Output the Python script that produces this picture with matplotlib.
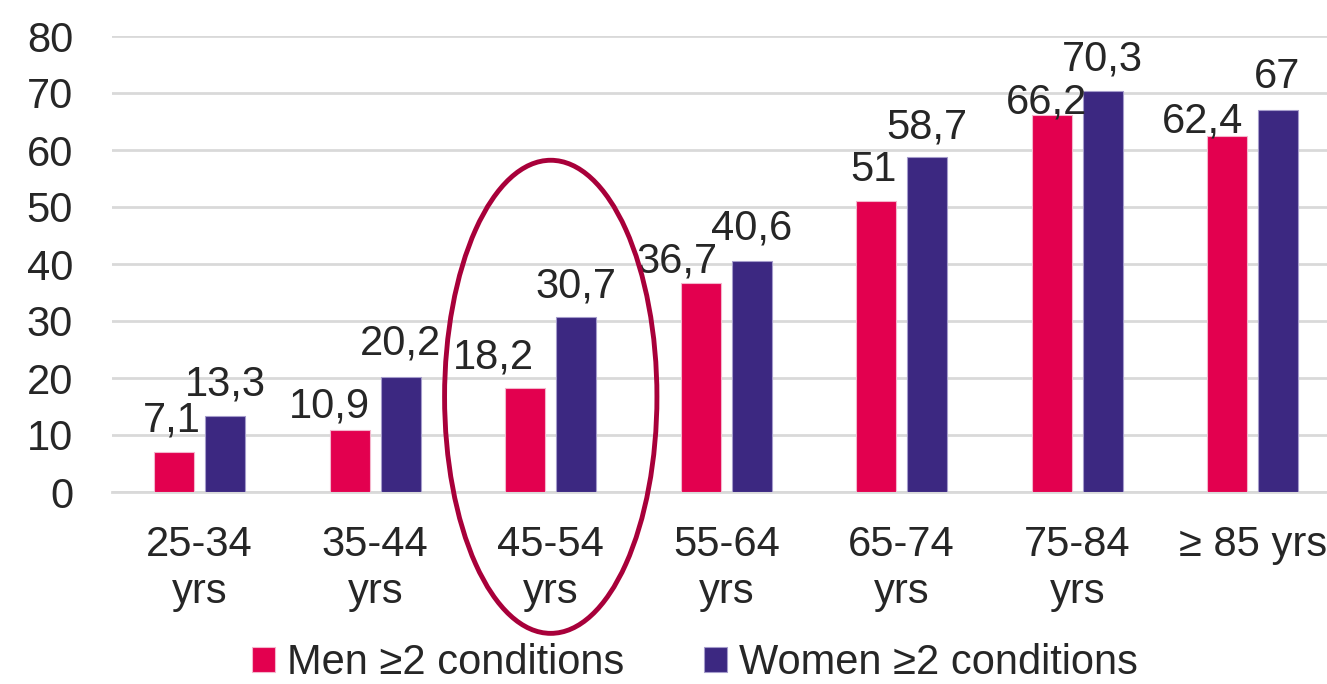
import matplotlib
matplotlib.use("Agg")
import matplotlib.pyplot as plt
from matplotlib.patches import Ellipse
import numpy as np

plt.rcParams['font.family'] = ['Liberation Sans', 'DejaVu Sans']

categories = ["25-34\nyrs", "35-44\nyrs", "45-54\nyrs", "55-64\nyrs",
              "65-74\nyrs", "75-84\nyrs", "\u2265 85 yrs"]
men = [7.1, 10.9, 18.2, 36.7, 51, 66.2, 62.4]
women = [13.3, 20.2, 30.7, 40.6, 58.7, 70.3, 67]
men_labels = ["7,1", "10,9", "18,2", "36,7", "51", "66,2", "62,4"]
women_labels = ["13,3", "20,2", "30,7", "40,6", "58,7", "70,3", "67"]
series_names = ["Men \u22652 conditions", "Women \u22652 conditions"]

# label nudges (pixels: dx, baseline height above bar) so neighbouring values do not collide
men_nudge = [(-2, 20), (-20, 12), (-32, 20), (-24, 10), (-3, 20), (-5, 1), (-25, 4)]
women_nudge = [(0, 21), (0, 22), (0, 20), (0, 21), (0, 19), (0, 21), (-1, 22)]

MEN_C = "#E3004F"
WOMEN_C = "#3C2881"
GRID_C = "#D9D9D9"
TEXT_C = "#262626"
FS = 30

fig = plt.figure(figsize=(13.27, 6.84), dpi=100)
ax = fig.add_axes([112 / 1327, (684 - 492) / 684, 1 - 112 / 1327, (492 - 36) / 684])

x = np.arange(len(categories))
bw = 0.228
off = 0.145
b1 = ax.bar(x - off, men, bw, color=MEN_C, edgecolor="#F3B6CC", linewidth=0.8,
            label=series_names[0], zorder=3)
b2 = ax.bar(x + off, women, bw, color=WOMEN_C, edgecolor="#A59CCB", linewidth=0.8,
            label=series_names[1], zorder=3)

for bars, labs, nudges in ((b1, men_labels, men_nudge), (b2, women_labels, women_nudge)):
    for rect, lab, (dx, dy) in zip(bars, labs, nudges):
        ax.annotate(lab, (rect.get_x() + rect.get_width() / 2, rect.get_height()),
                    xytext=(dx, dy), textcoords="offset pixels",
                    ha="center", va="baseline", fontsize=FS, color=TEXT_C, zorder=4)

ax.set_ylim(0, 80)
ax.set_xlim(-0.5, (1327 - 112) / 175.5 - 0.5)
ax.set_yticks(range(0, 81, 10))
ax.set_xticks(x)
ax.set_xticklabels(categories, fontsize=FS, color=TEXT_C, linespacing=1.2)
ax.tick_params(axis="y", length=0, pad=28, labelsize=FS, labelcolor=TEXT_C)
ax.tick_params(axis="x", length=0, pad=24)
ax.grid(axis="y", color=GRID_C, linewidth=2, zorder=0)
for s in ("left", "right", "top"):
    ax.spines[s].set_visible(False)
ax.spines["bottom"].set_color(GRID_C)
ax.spines["bottom"].set_linewidth(2)

# highlight ring around the 45-54 group
ring = Ellipse((2.0, 16.7), width=1.21, height=83, fill=False,
               edgecolor="#A8003A", linewidth=3.5, clip_on=False, zorder=5)
ax.add_patch(ring)

fig.legend(handles=[b1, b2], labels=series_names, loc="center",
           bbox_to_anchor=(695 / 1327, 1 - 663 / 684), ncol=2, frameon=False,
           fontsize=FS, handlelength=0.55, handleheight=0.55, handletextpad=0.3,
           columnspacing=1.9, labelcolor=TEXT_C)

fig.savefig("out.png", dpi=100)
